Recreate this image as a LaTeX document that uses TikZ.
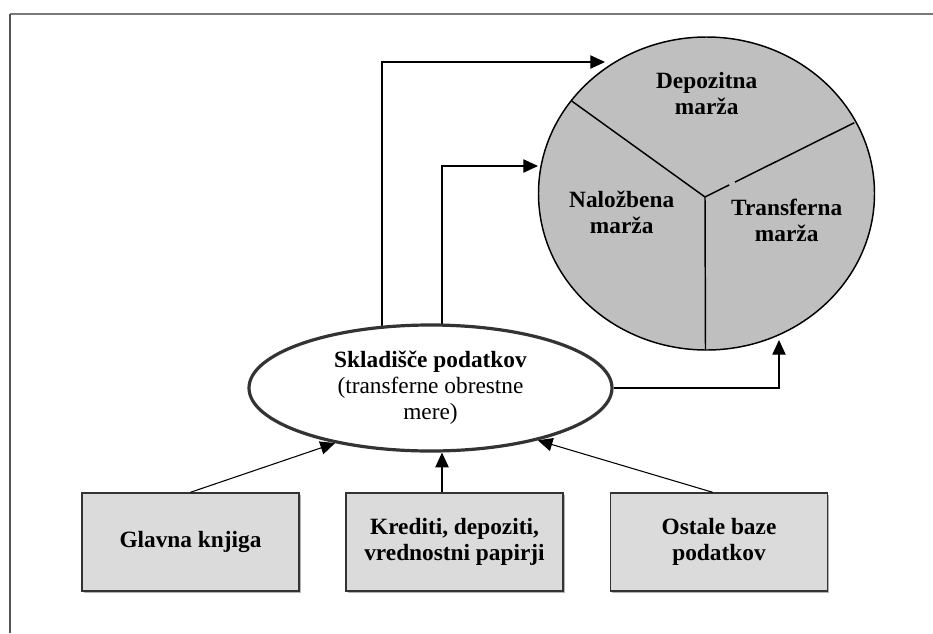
\documentclass[tikz,border=0pt]{standalone}
\usepackage{fontspec}
\setmainfont{Liberation Serif}
\usetikzlibrary{arrows.meta,shapes.geometric,backgrounds,shadows}
\newcommand\diagfont{\fontsize{17.5}{19.5}\selectfont}
\begin{document}
\begin{tikzpicture}[x=0.75pt,y=-0.75pt,
  every node/.style={align=center, inner sep=0pt},
  lbl/.style={font=\diagfont\bfseries},
  link/.style={draw=black, line width=0.8pt, -{Triangle[length=11pt,width=10pt]}},
  divider/.style={draw=black, line width=1.1pt},
  srcbox/.style={draw=black!80, line width=1.1pt, fill=black!14,
    minimum width=162.75pt, minimum height=73.5pt, font=\diagfont\bfseries,
    drop shadow={shadow xshift=1.2pt, shadow yshift=-1.2pt, fill=black!50, opacity=0.6}},
  store/.style={ellipse, draw=black!80, line width=2.4pt, fill=white,
    minimum width=272.25pt, minimum height=94.5pt, font=\diagfont},
  pieshape/.style={ellipse, draw=black, line width=1.1pt, fill=black!25,
    minimum width=252pt, minimum height=234.75pt}
]
\useasboundingbox (0,0) rectangle (933,633);

% outer frame: top and left edges only
\draw[draw=black!52, line width=1.3pt] (933,14) -- (10,14);
\draw[draw=black!68, line width=1.3pt] (10,14) -- (10,633);

% margin pie
\node[pieshape] (pie) at (706.5,193.5) {};
\coordinate (hub) at (705,197);
\draw[divider] (hub) -- (571.7,101);
\draw[divider] (hub) -- (705.5,350);
\draw[divider] (hub) -- (729.3,184.9);
\draw[divider] (735,182.1) -- (854.3,122.7);
\node[lbl] (dep) at (706.7,94) {Depozitna\\marža};
\node[lbl] (nal) at (621.7,212) {Naložbena\\marža};
\node[lbl] (tra) at (786.7,220) {Transferna\\marža};

% data warehouse
\node[store] (skl) at (430.5,388) {{\bfseries Skladišče podatkov}\\(transferne obrestne\\mere)};

% source systems
\node[srcbox] (gk) at (190.5,542) {Glavna knjiga};
\node[srcbox] (kr) at (454.5,542) {Krediti, depoziti,\\vrednostni papirji};
\node[srcbox] (os) at (719,542) {Ostale baze\\podatkov};

% connector corners and arrow ends
\coordinate (a1) at (382,62);
\coordinate (t1) at (605,62);
\coordinate (a2) at (442,166);
\coordinate (t2) at (538,166);
\coordinate (t3) at (779,340);

\begin{scope}[on background layer]
  \draw[link] (skl.center -| a1) -- (a1) -- (t1);
  \draw[link] (skl.center -| a2) -- (a2) -- (t2);
  \draw[link] (skl.east) -| (t3);
\end{scope}
\draw[link] (gk.north) -- (skl.210);
\draw[link] (kr.north -| a2) -- (skl.south -| a2);
\draw[link] (os.north -| 712.6,0) -- (skl.334);
\end{tikzpicture}
\end{document}
